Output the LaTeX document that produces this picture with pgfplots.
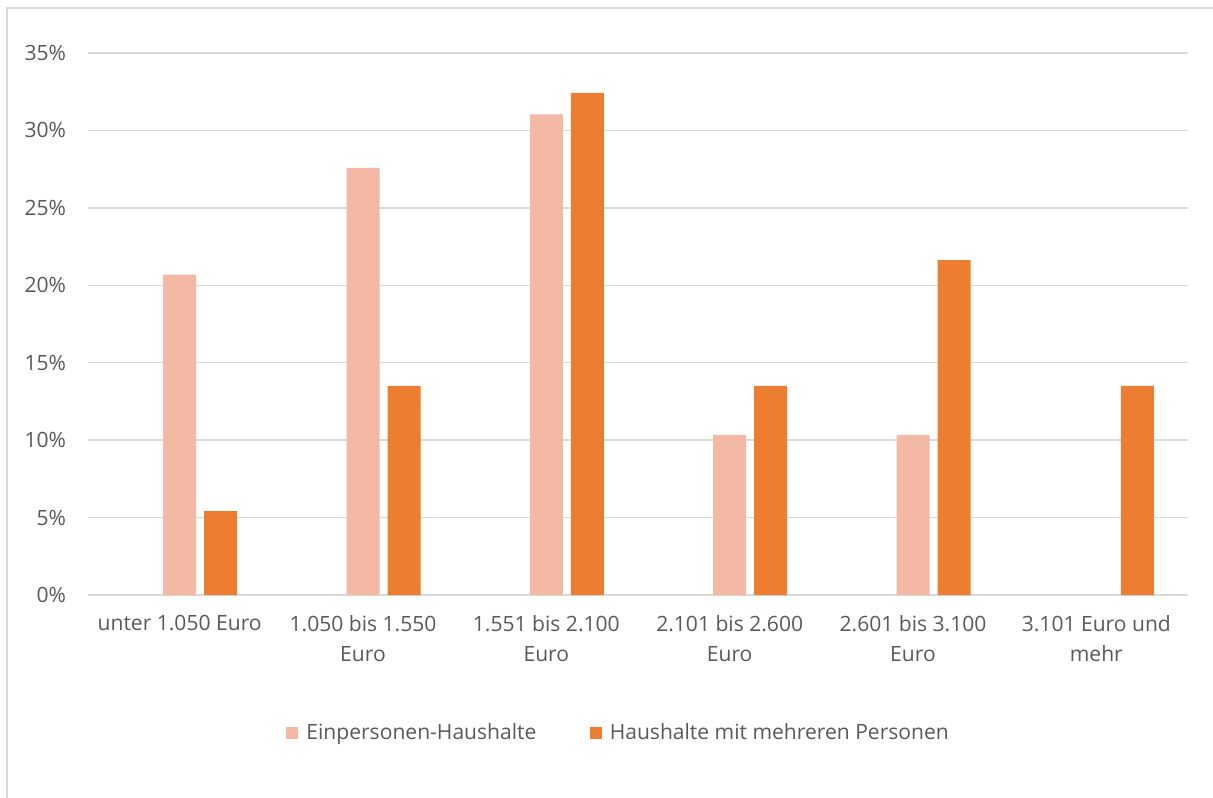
\documentclass[border=0pt]{standalone}
\usepackage{pgfplots}
\pgfplotsset{compat=1.18}
\usepackage{fontspec}
\setmainfont{Open Sans}

\definecolor{einColor}{HTML}{F4B9A5}
\definecolor{mehrColor}{HTML}{ED7D31}
\definecolor{gridGray}{HTML}{D9D9D9}
\definecolor{txtGray}{HTML}{595959}
\definecolor{frameGray}{HTML}{D9D9D9}

\begin{document}
\begin{tikzpicture}
% canvas in px units (y pointing down)
\begin{scope}[x=0.75pt,y=-0.75pt]
  \path[use as bounding box] (0,0) rectangle (1213,798);
  \draw[frameGray, line width=1pt] (7,798) -- (7,8) -- (1213,8);
\end{scope}

\begin{axis}[
  at={(66pt,-446.25pt)}, anchor=south west,
  scale only axis,
  width=825pt, height=406.5pt,
  xmin=-0.5, xmax=5.5,
  ymin=0, ymax=35,
  axis line style={draw=none},
  major tick length=0pt,
  ymajorgrids,
  grid style={gridGray, line width=1pt},
  ytick={0,5,...,35},
  yticklabels={0\%,5\%,10\%,15\%,20\%,25\%,30\%,35\%},
  yticklabel style={font=\fontsize{15.8}{18}\selectfont, text=txtGray, xshift=-13pt},
  xtick={0,...,5},
  xticklabels={unter 1.050 Euro, 1.050 bis 1.550\\Euro, 1.551 bis 2.100\\Euro, 2.101 bis 2.600\\Euro, 2.601 bis 3.100\\Euro, 3.101 Euro und\\mehr},
  xticklabel style={font=\fontsize{15.8}{22.5}\selectfont, text=txtGray, align=center, yshift=-12pt},
  legend style={at={(0.4827,-0.2546)}, anchor=center, draw=none, fill=none,
    font=\fontsize{15.8}{18}\selectfont, text=txtGray, legend columns=2,
    /tikz/every even column/.append style={column sep=38pt},
    /tikz/every odd column/.append style={column sep=0pt}},
  % square marker plus a little room before the entry text
  legend image code/.code={\fill[#1] (0pt,-4.5pt) rectangle (9pt,4.5pt);\path (13pt,0pt);},
]
\addplot[ybar, bar width=24.75pt, bar shift=0pt, fill=einColor, draw=none]
  coordinates {(0,20.69) (1,27.59) (2,31.03) (3,10.34) (4,10.34)};
\addlegendentry{Einpersonen-Haushalte}
\addplot[ybar, bar width=24.75pt, bar shift=30.75pt, fill=mehrColor, draw=none]
  coordinates {(0,5.41) (1,13.51) (2,32.43) (3,13.51) (4,21.62) (5,13.51)};
\addlegendentry{Haushalte mit mehreren Personen}
\end{axis}
\end{tikzpicture}
\end{document}
